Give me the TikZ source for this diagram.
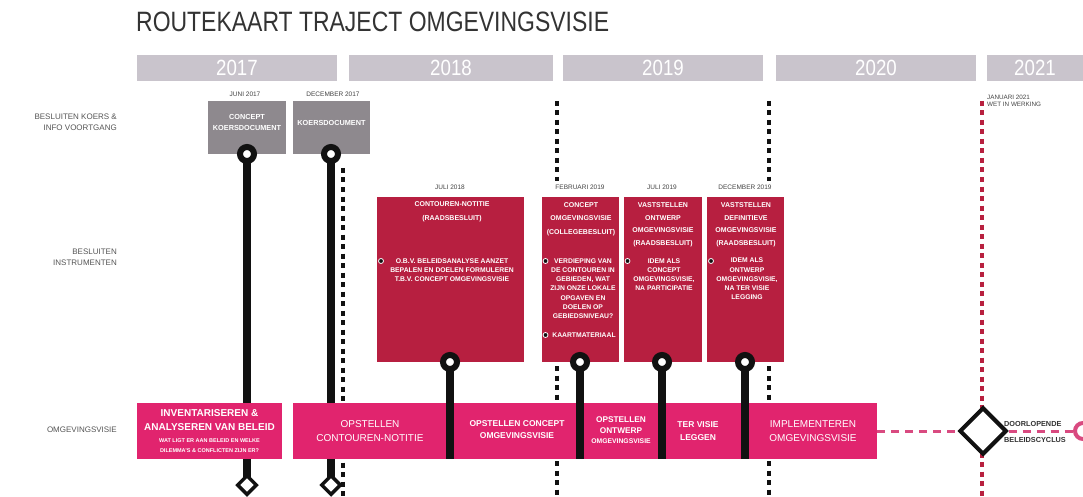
\documentclass[tikz,border=0pt]{standalone}
\usepackage{fontspec}
\usepackage{graphicx}
\setmainfont{Liberation Sans}
\usetikzlibrary{shapes.geometric}
\definecolor{yeargrey}{HTML}{C9C4CC}
\definecolor{boxgrey}{HTML}{8E898E}
\definecolor{crimsonbox}{HTML}{B71F40}
\definecolor{pinkbar}{HTML}{E1246E}
\definecolor{labelgrey}{HTML}{555555}
\definecolor{dategrey}{HTML}{444444}
\definecolor{titlegrey}{HTML}{333333}
\definecolor{ink}{HTML}{111111}
\definecolor{dotred}{HTML}{B8203F}
\definecolor{dashpink}{HTML}{D94A80}
\newcommand{\fsz}[2]{\fontsize{#1}{#2}\selectfont}
\begin{document}
\begin{tikzpicture}[x=1pt,y=-1pt,
  yearbar/.style={fill=yeargrey,draw=none,inner sep=0,rectangle},
  yeartxt/.style={text=white,font=\fsz{22}{24},inner sep=0},
  greybox/.style={fill=boxgrey,draw=none,inner sep=0,rectangle},
  redbox/.style={fill=crimsonbox,draw=none,inner sep=0,rectangle},
  pinkbox/.style={fill=pinkbar,draw=none,inner sep=0,rectangle},
  sidelabel/.style={text=labelgrey,font=\fsz{8}{11},align=right,anchor=east,inner sep=0},
  datelabel/.style={text=dategrey,font=\fsz{6.5}{7},inner sep=0},
  hdr/.style={text=white,font=\bfseries\fsz{7}{13},align=center,inner sep=0},
  bul/.style={text=white,font=\bfseries\fsz{6.8}{9.2},align=center,inner sep=0},
  bartxt/.style={text=white,font=\bfseries\fsz{10}{14},align=center,inner sep=0},
  ring/.style={circle,draw=ink,line width=6pt,fill=white,minimum size=14pt,inner sep=0},
  smalldiamond/.style={diamond,aspect=1,draw=ink,line width=3.5pt,fill=white,minimum size=20pt,inner sep=0},
  bigdiamond/.style={diamond,aspect=1,draw=ink,line width=4pt,fill=white,minimum size=47pt,inner sep=0},
  bullet/.style={circle,fill=ink,draw=white,line width=0.8pt,minimum size=5pt,inner sep=0},
  blackline/.style={draw=ink,line width=8pt},
  dotline/.style={draw=ink,line width=3.4pt,dash pattern=on 5pt off 4.5pt},
  reddot/.style={draw=dotred,line width=3.4pt,dash pattern=on 5pt off 4.5pt},
  pinkdash/.style={draw=dashpink,line width=3pt,dash pattern=on 8pt off 6pt},
]
\useasboundingbox (0,0) rectangle (1083,497);
\fill[white] (0,0) rectangle (1083,497);

% title
\node[anchor=west,inner sep=0,text=titlegrey,font=\fsz{28}{30}] (title) at (136,22)
  {\scalebox{0.82}[1]{ROUTEKAART TRAJECT OMGEVINGSVISIE}};

% year bars
\node[yearbar,minimum width=200pt,minimum height=26pt] (y2017) at (237,68) {};
\node[yearbar,minimum width=204pt,minimum height=26pt] (y2018) at (451,68) {};
\node[yearbar,minimum width=200pt,minimum height=26pt] (y2019) at (663,68) {};
\node[yearbar,minimum width=200pt,minimum height=26pt] (y2020) at (876,68) {};
\node[yearbar,minimum width=110pt,minimum height=26pt] (y2021) at (1042,68) {};
\node[yeartxt] (t2017) at (237,68) {\scalebox{0.85}[1]{2017}};
\node[yeartxt] (t2018) at (451,68) {\scalebox{0.85}[1]{2018}};
\node[yeartxt] (t2019) at (663,68) {\scalebox{0.85}[1]{2019}};
\node[yeartxt] (t2020) at (876,68) {\scalebox{0.85}[1]{2020}};
\node[yeartxt] (t2021) at (1035,68) {\scalebox{0.85}[1]{2021}};

% side labels
\node[sidelabel] (l1) at (117,122) {BESLUITEN KOERS \&\\INFO VOORTGANG};
\node[sidelabel] (l2) at (117,257) {BESLUITEN\\INSTRUMENTEN};
\node[sidelabel] (l3) at (117,430) {OMGEVINGSVISIE};

% dotted milestone lines (behind)
\coordinate (d1t) at (343,168); \coordinate (d1b) at (343,497);
\coordinate (d2t) at (557,101); \coordinate (d2m) at (557,181);
\coordinate (d2n) at (557,366); \coordinate (d2b) at (557,497);
\coordinate (d3t) at (769,101); \coordinate (d3m) at (769,181);
\coordinate (d3n) at (769,366); \coordinate (d3b) at (769,497);
\coordinate (d4t) at (982,101); \coordinate (d4b) at (982,497);
\draw[dotline] (d1t) -- (d1b);
\draw[dotline] (d2t) -- (d2m);
\draw[dotline] (d2n) -- (d2b);
\draw[dotline] (d3t) -- (d3m);
\draw[dotline] (d3n) -- (d3b);
\draw[reddot] (d4t) -- (d4b);

% dates
\node[datelabel] (dt1) at (245,94) {JUNI 2017};
\node[datelabel] (dt2) at (333,94) {DECEMBER 2017};
\node[datelabel] (dt3) at (450,187) {JULI 2018};
\node[datelabel] (dt4) at (580,187) {FEBRUARI 2019};
\node[datelabel] (dt5) at (662,187) {JULI 2019};
\node[datelabel] (dt6) at (745,187) {DECEMBER 2019};
\node[datelabel,font=\fsz{6.3}{7},anchor=north west,align=left] (dt7) at (987,95) {JANUARI 2021\\WET IN WERKING};

% grey boxes
\node[greybox,minimum width=78pt,minimum height=53pt] (g1) at (247,127.5) {};
\node[greybox,minimum width=77pt,minimum height=53pt] (g2) at (331.5,127.5) {};
\node[hdr,font=\bfseries\fsz{7.3}{11}] (g1t) at (247,122.5) {CONCEPT\\KOERSDOCUMENT};
\node[hdr,font=\bfseries\fsz{7.3}{11}] (g2t) at (331.5,123) {KOERSDOCUMENT};

% black lines from grey boxes (behind the pink bar)
\coordinate (c1) at (247,154); \coordinate (c2) at (331,154);
\coordinate (e1) at (247,485); \coordinate (e2) at (331,485);
\draw[blackline] (c1) -- (e1);
\draw[blackline] (c2) -- (e2);
\node[ring] (c1r) at (c1) {};
\node[ring] (c2r) at (c2) {};
\node[smalldiamond] (e1d) at (e1) {};
\node[smalldiamond] (e2d) at (e2) {};

% red boxes
\node[redbox,minimum width=147pt,minimum height=165pt] (r1) at (450.5,279.5) {};
\node[redbox,minimum width=77pt,minimum height=165pt] (r2) at (580.5,279.5) {};
\node[redbox,minimum width=78pt,minimum height=165pt] (r3) at (663,279.5) {};
\node[redbox,minimum width=77pt,minimum height=165pt] (r4) at (745.5,279.5) {};

\node[hdr,font=\bfseries\fsz{7}{14}] (r1h) at (452,212) {CONTOUREN-NOTITIE\\(RAADSBESLUIT)};
\node[bul] (r1b) at (452,270) {O.B.V. BELEIDSANALYSE AANZET\\BEPALEN EN DOELEN FORMULEREN\\T.B.V. CONCEPT OMGEVINGSVISIE};
\node[hdr,font=\bfseries\fsz{7}{13.5}] (r2h) at (581,219) {CONCEPT\\OMGEVINGSVISIE\\(COLLEGEBESLUIT)};
\node[bul] (r2b) at (583,288.5) {VERDIEPING VAN\\DE CONTOUREN IN\\GEBIEDEN, WAT\\ZIJN ONZE LOKALE\\OPGAVEN EN\\DOELEN OP\\GEBIEDSNIVEAU?};
\node[bul] (r2c) at (584,335) {KAARTMATERIAAL};
\node[hdr,font=\bfseries\fsz{7}{12.5}] (r3h) at (663,225) {VASTSTELLEN\\ONTWERP\\OMGEVINGSVISIE\\(RAADSBESLUIT)};
\node[bul] (r3b) at (664,274.5) {IDEM ALS\\CONCEPT\\OMGEVINGSVISIE,\\NA PARTICIPATIE};
\node[hdr,font=\bfseries\fsz{7}{12.5}] (r4h) at (746,225) {VASTSTELLEN\\DEFINITIEVE\\OMGEVINGSVISIE\\(RAADSBESLUIT)};
\node[bul] (r4b) at (747,279) {IDEM ALS\\ONTWERP\\OMGEVINGSVISIE,\\NA TER VISIE\\LEGGING};

\node[bullet] (b1) at (381,261) {};
\node[bullet] (b2) at (545.5,261) {};
\node[bullet] (b3) at (545.5,335) {};
\node[bullet] (b4) at (627.5,261) {};
\node[bullet] (b5) at (711,261) {};

% pink bar
\node[pinkbox,minimum width=145pt,minimum height=56pt] (p1) at (209.5,431) {};
\node[pinkbox,minimum width=584pt,minimum height=56pt] (p2) at (585,431) {};

% pink dashed continuation
\coordinate (pe) at (877,431);
\node[bigdiamond] (dm) at (983,431) {};
\node[circle,draw=dashpink,line width=4pt,fill=white,minimum size=16pt,inner sep=0] (pc) at (1083,431) {};
\draw[pinkdash] (pe) -- (dm.west);
\draw[pinkdash] (dm.east) -- (pc.west);
\node[bigdiamond] (dm2) at (983,431) {};
\node[anchor=west,align=left,inner sep=0,text=titlegrey,font=\bfseries\fsz{7.3}{16.5}] (dml) at (1004,432) {DOORLOPENDE\\BELEIDSCYCLUS};

% black lines from red boxes (over the pink bar)
\coordinate (c3) at (450,362); \coordinate (f3) at (450,459);
\coordinate (c4) at (580,362); \coordinate (f4) at (580,459);
\coordinate (c5) at (662,362); \coordinate (f5) at (662,459);
\coordinate (c6) at (745,362); \coordinate (f6) at (745,459);
\draw[blackline] (c3) -- (f3);
\draw[blackline] (c4) -- (f4);
\draw[blackline] (c5) -- (f5);
\draw[blackline] (c6) -- (f6);
\node[ring] (c3r) at (c3) {};
\node[ring] (c4r) at (c4) {};
\node[ring] (c5r) at (c5) {};
\node[ring] (c6r) at (c6) {};

% pink bar texts
\node[bartxt] (pt1) at (209.5,420.5) {INVENTARISEREN \&\\ANALYSEREN VAN BELEID};
\node[bartxt,font=\bfseries\fsz{5.5}{10}] (pt1s) at (209.5,446) {WAT LIGT ER AAN BELEID EN WELKE\\DILEMMA'S \& CONFLICTEN ZIJN ER?};
\node[bartxt,font=\fsz{10}{14}] (pt2) at (370,431) {OPSTELLEN\\CONTOUREN-NOTITIE};
\node[bartxt,font=\bfseries\fsz{8.5}{12}] (pt3) at (517,430) {OPSTELLEN CONCEPT\\OMGEVINGSVISIE};
\node[bartxt,font=\bfseries\fsz{8.3}{10.5}] (pt4) at (621,430.5) {OPSTELLEN\\ONTWERP\\{\fsz{6.8}{10}OMGEVINGSVISIE}};
\node[bartxt,font=\bfseries\fsz{8.5}{13}] (pt5) at (698,431.5) {TER VISIE\\LEGGEN};
\node[bartxt,font=\fsz{10}{14}] (pt6) at (813,431) {IMPLEMENTEREN\\OMGEVINGSVISIE};
\end{tikzpicture}
\end{document}
